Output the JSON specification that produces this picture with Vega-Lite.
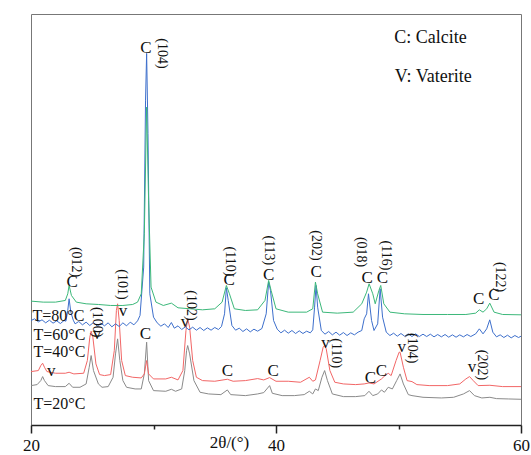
{
  "$schema": "https://vega.github.io/schema/vega-lite/v6.json",
  "width": 490,
  "height": 411,
  "autosize": {"type": "none"},
  "padding": {"left": 31, "top": 14, "right": 10, "bottom": 30},
  "config": {
    "view": {"stroke": "#777", "strokeWidth": 1},
    "font": "Liberation Serif",
    "axis": {"domainColor": "#222", "domainWidth": 1.5, "tickColor": "#222", "tickWidth": 1.5, "grid": false, "labelFont": "Liberation Serif", "titleFont": "Liberation Serif", "labelColor": "#111", "titleColor": "#111", "titleFontWeight": "normal"}
  },
  "datasets": {
    "xrd": [
      {"s":"20","x":20.0,"y":118},{"s":"20","x":20.5,"y":121},{"s":"20","x":20.8,"y":133},{"s":"20","x":20.95,"y":145},{"s":"20","x":21.1,"y":133},{"s":"20","x":21.4,"y":118},{"s":"20","x":22.0,"y":115},{"s":"20","x":22.8,"y":115},{"s":"20","x":23.11,"y":125},{"s":"20","x":23.4,"y":113},{"s":"20","x":24.0,"y":113},{"s":"20","x":24.5,"y":123},{"s":"20","x":24.75,"y":173},{"s":"20","x":24.91,"y":208},{"s":"20","x":25.1,"y":163},{"s":"20","x":25.5,"y":123},{"s":"20","x":25.8,"y":113},{"s":"20","x":26.3,"y":115},{"s":"20","x":26.7,"y":143},{"s":"20","x":26.9,"y":213},{"s":"20","x":27.07,"y":258},{"s":"20","x":27.25,"y":193},{"s":"20","x":27.5,"y":133},{"s":"20","x":27.8,"y":113},{"s":"20","x":28.5,"y":108},{"s":"20","x":29.0,"y":108},{"s":"20","x":29.25,"y":153},{"s":"20","x":29.44,"y":248},{"s":"20","x":29.6,"y":133},{"s":"20","x":30.0,"y":103},{"s":"20","x":31.0,"y":101},{"s":"20","x":31.46,"y":107},{"s":"20","x":31.8,"y":101},{"s":"20","x":32.3,"y":108},{"s":"20","x":32.55,"y":163},{"s":"20","x":32.7,"y":223},{"s":"20","x":32.79,"y":238},{"s":"20","x":32.95,"y":213},{"s":"20","x":33.3,"y":133},{"s":"20","x":33.8,"y":98},{"s":"20","x":34.5,"y":93},{"s":"20","x":35.5,"y":91},{"s":"20","x":36.03,"y":105},{"s":"20","x":36.3,"y":91},{"s":"20","x":37.5,"y":88},{"s":"20","x":38.5,"y":93},{"s":"20","x":39.0,"y":97},{"s":"20","x":39.48,"y":118},{"s":"20","x":39.7,"y":95},{"s":"20","x":40.5,"y":88},{"s":"20","x":41.5,"y":88},{"s":"20","x":42.3,"y":91},{"s":"20","x":42.72,"y":101},{"s":"20","x":43.0,"y":93},{"s":"20","x":43.22,"y":108},{"s":"20","x":43.45,"y":103},{"s":"20","x":43.75,"y":143},{"s":"20","x":43.97,"y":163},{"s":"20","x":44.2,"y":133},{"s":"20","x":44.6,"y":93},{"s":"20","x":45.5,"y":85},{"s":"20","x":46.5,"y":85},{"s":"20","x":47.25,"y":88},{"s":"20","x":47.59,"y":101},{"s":"20","x":47.9,"y":88},{"s":"20","x":48.3,"y":93},{"s":"20","x":48.61,"y":105},{"s":"20","x":48.85,"y":98},{"s":"20","x":49.16,"y":113},{"s":"20","x":49.5,"y":108},{"s":"20","x":49.85,"y":133},{"s":"20","x":50.13,"y":153},{"s":"20","x":50.4,"y":123},{"s":"20","x":50.8,"y":91},{"s":"20","x":51.1,"y":88},{"s":"20","x":52.0,"y":83},{"s":"20","x":53.5,"y":81},{"s":"20","x":54.5,"y":83},{"s":"20","x":55.3,"y":93},{"s":"20","x":55.8,"y":103},{"s":"20","x":56.2,"y":88},{"s":"20","x":56.8,"y":81},{"s":"20","x":57.46,"y":83},{"s":"20","x":58.0,"y":79},{"s":"20","x":59.0,"y":78},{"s":"20","x":60.0,"y":77},
      {"s":"40","x":20.0,"y":160},{"s":"40","x":20.6,"y":163},{"s":"40","x":20.8,"y":178},{"s":"40","x":20.95,"y":185},{"s":"40","x":21.1,"y":173},{"s":"40","x":21.3,"y":160},{"s":"40","x":22.0,"y":155},{"s":"40","x":22.8,"y":155},{"s":"40","x":23.11,"y":158},{"s":"40","x":23.5,"y":153},{"s":"40","x":24.3,"y":155},{"s":"40","x":24.6,"y":193},{"s":"40","x":24.8,"y":263},{"s":"40","x":24.91,"y":281},{"s":"40","x":25.05,"y":263},{"s":"40","x":25.3,"y":183},{"s":"40","x":25.6,"y":151},{"s":"40","x":26.0,"y":148},{"s":"40","x":26.5,"y":151},{"s":"40","x":26.8,"y":223},{"s":"40","x":26.97,"y":343},{"s":"40","x":27.07,"y":363},{"s":"40","x":27.2,"y":313},{"s":"40","x":27.4,"y":193},{"s":"40","x":27.7,"y":148},{"s":"40","x":28.3,"y":143},{"s":"40","x":29.0,"y":141},{"s":"40","x":29.25,"y":153},{"s":"40","x":29.44,"y":193},{"s":"40","x":29.6,"y":153},{"s":"40","x":30.0,"y":138},{"s":"40","x":31.0,"y":138},{"s":"40","x":31.46,"y":143},{"s":"40","x":32.0,"y":135},{"s":"40","x":32.4,"y":163},{"s":"40","x":32.65,"y":283},{"s":"40","x":32.79,"y":318},{"s":"40","x":32.95,"y":293},{"s":"40","x":33.2,"y":193},{"s":"40","x":33.5,"y":143},{"s":"40","x":34.0,"y":133},{"s":"40","x":35.0,"y":131},{"s":"40","x":36.03,"y":137},{"s":"40","x":36.5,"y":131},{"s":"40","x":37.5,"y":133},{"s":"40","x":38.5,"y":139},{"s":"40","x":39.0,"y":135},{"s":"40","x":39.48,"y":142},{"s":"40","x":40.0,"y":131},{"s":"40","x":41.0,"y":131},{"s":"40","x":42.0,"y":128},{"s":"40","x":42.72,"y":143},{"s":"40","x":43.0,"y":131},{"s":"40","x":43.22,"y":135},{"s":"40","x":43.6,"y":193},{"s":"40","x":43.85,"y":233},{"s":"40","x":43.97,"y":238},{"s":"40","x":44.1,"y":228},{"s":"40","x":44.4,"y":163},{"s":"40","x":44.8,"y":128},{"s":"40","x":45.5,"y":123},{"s":"40","x":46.5,"y":121},{"s":"40","x":47.2,"y":123},{"s":"40","x":47.59,"y":126},{"s":"40","x":48.0,"y":123},{"s":"40","x":48.61,"y":138},{"s":"40","x":48.9,"y":148},{"s":"40","x":49.16,"y":155},{"s":"40","x":49.4,"y":148},{"s":"40","x":49.8,"y":193},{"s":"40","x":50.05,"y":218},{"s":"40","x":50.13,"y":218},{"s":"40","x":50.4,"y":173},{"s":"40","x":50.7,"y":133},{"s":"40","x":51.1,"y":130},{"s":"40","x":51.5,"y":121},{"s":"40","x":52.5,"y":118},{"s":"40","x":54.0,"y":118},{"s":"40","x":55.0,"y":123},{"s":"40","x":55.5,"y":138},{"s":"40","x":55.8,"y":145},{"s":"40","x":56.1,"y":133},{"s":"40","x":56.5,"y":118},{"s":"40","x":57.46,"y":119},{"s":"40","x":58.5,"y":115},{"s":"40","x":60.0,"y":115},
      {"s":"60","x":20.0,"y":313},{"s":"60","x":20.3,"y":318},{"s":"60","x":20.6,"y":309},{"s":"60","x":20.9,"y":315},{"s":"60","x":21.2,"y":306},{"s":"60","x":21.5,"y":314},{"s":"60","x":21.8,"y":305},{"s":"60","x":22.1,"y":312},{"s":"60","x":22.4,"y":304},{"s":"60","x":22.7,"y":313},{"s":"60","x":22.85,"y":311},{"s":"60","x":23.0,"y":343},{"s":"60","x":23.11,"y":378},{"s":"60","x":23.25,"y":338},{"s":"60","x":23.45,"y":314},{"s":"60","x":23.6,"y":303},{"s":"60","x":23.9,"y":310},{"s":"60","x":24.2,"y":300},{"s":"60","x":24.5,"y":308},{"s":"60","x":24.8,"y":298},{"s":"60","x":25.1,"y":307},{"s":"60","x":25.4,"y":296},{"s":"60","x":25.7,"y":305},{"s":"60","x":26.0,"y":297},{"s":"60","x":26.3,"y":306},{"s":"60","x":26.6,"y":294},{"s":"60","x":26.9,"y":303},{"s":"60","x":27.2,"y":295},{"s":"60","x":27.5,"y":306},{"s":"60","x":27.8,"y":297},{"s":"60","x":28.1,"y":308},{"s":"60","x":28.4,"y":300},{"s":"60","x":28.7,"y":312},{"s":"60","x":28.9,"y":328},{"s":"60","x":29.2,"y":473},{"s":"60","x":29.35,"y":973},{"s":"60","x":29.44,"y":1113},{"s":"60","x":29.55,"y":873},{"s":"60","x":29.7,"y":393},{"s":"60","x":30.0,"y":323},{"s":"60","x":30.3,"y":306},{"s":"60","x":30.6,"y":296},{"s":"60","x":30.9,"y":303},{"s":"60","x":31.2,"y":292},{"s":"60","x":31.46,"y":307},{"s":"60","x":31.7,"y":290},{"s":"60","x":32.0,"y":297},{"s":"60","x":32.3,"y":286},{"s":"60","x":32.6,"y":294},{"s":"60","x":32.9,"y":285},{"s":"60","x":33.2,"y":293},{"s":"60","x":33.5,"y":284},{"s":"60","x":33.8,"y":292},{"s":"60","x":34.1,"y":283},{"s":"60","x":34.4,"y":291},{"s":"60","x":34.7,"y":284},{"s":"60","x":35.0,"y":292},{"s":"60","x":35.3,"y":286},{"s":"60","x":35.55,"y":295},{"s":"60","x":35.8,"y":333},{"s":"60","x":35.95,"y":411},{"s":"60","x":36.1,"y":373},{"s":"60","x":36.4,"y":298},{"s":"60","x":36.7,"y":284},{"s":"60","x":37.0,"y":290},{"s":"60","x":37.3,"y":280},{"s":"60","x":37.6,"y":288},{"s":"60","x":37.9,"y":279},{"s":"60","x":38.2,"y":287},{"s":"60","x":38.5,"y":281},{"s":"60","x":38.85,"y":289},{"s":"60","x":39.2,"y":333},{"s":"60","x":39.4,"y":428},{"s":"60","x":39.55,"y":403},{"s":"60","x":39.8,"y":313},{"s":"60","x":40.1,"y":287},{"s":"60","x":40.4,"y":276},{"s":"60","x":40.7,"y":284},{"s":"60","x":41.0,"y":275},{"s":"60","x":41.3,"y":283},{"s":"60","x":41.6,"y":274},{"s":"60","x":41.9,"y":282},{"s":"60","x":42.2,"y":274},{"s":"60","x":42.5,"y":281},{"s":"60","x":42.8,"y":276},{"s":"60","x":43.0,"y":285},{"s":"60","x":43.15,"y":353},{"s":"60","x":43.27,"y":418},{"s":"60","x":43.4,"y":353},{"s":"60","x":43.7,"y":283},{"s":"60","x":44.0,"y":272},{"s":"60","x":44.3,"y":280},{"s":"60","x":44.6,"y":270},{"s":"60","x":44.9,"y":278},{"s":"60","x":45.2,"y":269},{"s":"60","x":45.5,"y":277},{"s":"60","x":45.8,"y":268},{"s":"60","x":46.1,"y":276},{"s":"60","x":46.4,"y":270},{"s":"60","x":46.7,"y":278},{"s":"60","x":47.0,"y":283},{"s":"60","x":47.2,"y":318},{"s":"60","x":47.4,"y":333},{"s":"60","x":47.55,"y":393},{"s":"60","x":47.8,"y":313},{"s":"60","x":48.0,"y":283},{"s":"60","x":48.3,"y":303},{"s":"60","x":48.5,"y":408},{"s":"60","x":48.7,"y":323},{"s":"60","x":49.0,"y":278},{"s":"60","x":49.3,"y":268},{"s":"60","x":49.6,"y":275},{"s":"60","x":49.9,"y":266},{"s":"60","x":50.2,"y":274},{"s":"60","x":50.5,"y":266},{"s":"60","x":50.8,"y":273},{"s":"60","x":51.1,"y":265},{"s":"60","x":51.4,"y":273},{"s":"60","x":51.7,"y":265},{"s":"60","x":52.0,"y":272},{"s":"60","x":52.3,"y":265},{"s":"60","x":52.6,"y":272},{"s":"60","x":52.9,"y":264},{"s":"60","x":53.2,"y":271},{"s":"60","x":53.5,"y":264},{"s":"60","x":53.8,"y":271},{"s":"60","x":54.1,"y":263},{"s":"60","x":54.4,"y":270},{"s":"60","x":54.7,"y":263},{"s":"60","x":55.0,"y":270},{"s":"60","x":55.3,"y":264},{"s":"60","x":55.6,"y":271},{"s":"60","x":55.9,"y":265},{"s":"60","x":56.3,"y":273},{"s":"60","x":56.6,"y":288},{"s":"60","x":56.9,"y":273},{"s":"60","x":57.2,"y":288},{"s":"60","x":57.45,"y":315},{"s":"60","x":57.7,"y":278},{"s":"60","x":58.0,"y":264},{"s":"60","x":58.3,"y":270},{"s":"60","x":58.6,"y":262},{"s":"60","x":58.9,"y":269},{"s":"60","x":59.2,"y":261},{"s":"60","x":59.5,"y":268},{"s":"60","x":59.8,"y":262},{"s":"60","x":60.0,"y":266},
      {"s":"80","x":20.0,"y":371},{"s":"80","x":21.0,"y":368},{"s":"80","x":22.0,"y":368},{"s":"80","x":22.8,"y":373},{"s":"80","x":23.0,"y":393},{"s":"80","x":23.11,"y":418},{"s":"80","x":23.3,"y":388},{"s":"80","x":23.7,"y":368},{"s":"80","x":24.5,"y":363},{"s":"80","x":25.5,"y":361},{"s":"80","x":26.5,"y":358},{"s":"80","x":27.5,"y":358},{"s":"80","x":28.3,"y":361},{"s":"80","x":28.7,"y":368},{"s":"80","x":29.0,"y":393},{"s":"80","x":29.25,"y":573},{"s":"80","x":29.44,"y":952},{"s":"80","x":29.6,"y":673},{"s":"80","x":29.8,"y":413},{"s":"80","x":30.2,"y":368},{"s":"80","x":30.8,"y":358},{"s":"80","x":31.46,"y":365},{"s":"80","x":32.0,"y":351},{"s":"80","x":33.0,"y":348},{"s":"80","x":34.0,"y":345},{"s":"80","x":35.0,"y":348},{"s":"80","x":35.6,"y":368},{"s":"80","x":35.95,"y":418},{"s":"80","x":36.2,"y":393},{"s":"80","x":36.6,"y":348},{"s":"80","x":37.5,"y":343},{"s":"80","x":38.5,"y":345},{"s":"80","x":39.1,"y":373},{"s":"80","x":39.4,"y":433},{"s":"80","x":39.6,"y":403},{"s":"80","x":40.0,"y":348},{"s":"80","x":41.0,"y":338},{"s":"80","x":42.5,"y":338},{"s":"80","x":43.0,"y":348},{"s":"80","x":43.22,"y":428},{"s":"80","x":43.4,"y":393},{"s":"80","x":43.8,"y":338},{"s":"80","x":45.0,"y":335},{"s":"80","x":46.3,"y":338},{"s":"80","x":47.0,"y":363},{"s":"80","x":47.4,"y":398},{"s":"80","x":47.6,"y":423},{"s":"80","x":47.9,"y":393},{"s":"80","x":48.1,"y":363},{"s":"80","x":48.4,"y":403},{"s":"80","x":48.55,"y":418},{"s":"80","x":48.8,"y":363},{"s":"80","x":49.3,"y":338},{"s":"80","x":50.5,"y":333},{"s":"80","x":52.0,"y":331},{"s":"80","x":54.0,"y":331},{"s":"80","x":55.5,"y":331},{"s":"80","x":56.3,"y":335},{"s":"80","x":56.6,"y":345},{"s":"80","x":56.9,"y":338},{"s":"80","x":57.2,"y":348},{"s":"80","x":57.45,"y":365},{"s":"80","x":57.8,"y":338},{"s":"80","x":58.5,"y":331},{"s":"80","x":60.0,"y":330}
    ],
    "letters": [
      {"t":"C","x":29.39,"y":1128},{"t":"C","x":23.36,"y":428},{"t":"v","x":27.51,"y":341},{"t":"v","x":25.38,"y":273},{"t":"C","x":29.34,"y":273},{"t":"v","x":32.57,"y":308},{"t":"v","x":21.65,"y":163},{"t":"C","x":36.03,"y":161},{"t":"C","x":39.76,"y":163},{"t":"C","x":36.17,"y":433},{"t":"C","x":39.4,"y":448},{"t":"C","x":43.27,"y":458},{"t":"C","x":47.45,"y":440},{"t":"C","x":48.69,"y":440},{"t":"C","x":56.55,"y":376},{"t":"C","x":57.79,"y":390},{"t":"v","x":44.05,"y":245},{"t":"C","x":47.7,"y":140},{"t":"C","x":48.61,"y":161},{"t":"v","x":50.27,"y":233},{"t":"v","x":55.99,"y":173}
    ],
    "hkl": [
      {"t":"(104)","x":30.69,"y":1113},{"t":"(012)","x":23.64,"y":488},{"t":"(101)","x":27.45,"y":421},{"t":"(100)","x":25.38,"y":308},{"t":"(102)","x":33.07,"y":358},{"t":"(110)","x":36.25,"y":490},{"t":"(113)","x":39.4,"y":523},{"t":"(202)","x":43.27,"y":538},{"t":"(018)","x":46.9,"y":518},{"t":"(116)","x":49.02,"y":508},{"t":"(122)","x":58.29,"y":443},{"t":"(110)","x":44.88,"y":215},{"t":"(104)","x":51.1,"y":230},{"t":"(202)","x":56.82,"y":180}
    ],
    "temps": [
      {"t":"T=80°C","x":20.12,"y":325},{"t":"T=60°C","x":20.2,"y":270},{"t":"T=40°C","x":20.2,"y":220},{"t":"T=20°C","x":20.2,"y":63}
    ],
    "legend": [
      {"t":"C: Calcite","x":49.65,"y":1158},{"t":"V: Vaterite","x":49.7,"y":1043}
    ]
  },
  "resolve": {"scale": {"x": "independent"}, "axis": {"x": "independent"}},
  "layer": [
    {
      "data": {"name": "xrd"},
      "mark": {"type": "line", "strokeWidth": 1, "interpolate": "linear"},
      "encoding": {
        "x": {"field": "x", "type": "quantitative", "scale": {"domain": [20, 60], "nice": false, "zero": false},
              "axis": {"orient": "bottom", "values": [20, 40, 60], "tickSize": 8, "labelFontSize": 17, "labelPadding": 4, "title": "2θ/(°)", "titleFontSize": 17, "titleX": 198, "titleY": 17, "titleBaseline": "middle", "titleAnchor": null, "titleAlign": "center", "labelFlush": false}},
        "y": {"field": "y", "type": "quantitative", "scale": {"domain": [0, 1231], "nice": false, "zero": false},
              "axis": {"title": "Intensity", "ticks": false, "labels": false, "titleFontSize": 17, "titlePadding": 5}},
        "color": {"field": "s", "type": "nominal", "scale": {"domain": ["20", "40", "60", "80"], "range": ["#8a8a8a", "#f26666", "#3d6fcc", "#3cb87a"]}, "legend": null},
        "order": {"field": "s"}
      }
    },
    {
      "data": {"name": "letters"},
      "mark": {"type": "text", "font": "Liberation Serif", "fontSize": 17, "align": "center", "baseline": "middle", "color": "#111"},
      "encoding": {
        "x": {"field": "x", "type": "quantitative", "scale": {"domain": [20, 60], "nice": false, "zero": false},
              "axis": {"orient": "bottom", "values": [30, 50], "tickSize": 4, "labels": false, "domain": false, "title": null}},
        "y": {"field": "y", "type": "quantitative", "axis": {"orient": "right", "ticks": false, "labels": false, "title": null}},
        "text": {"field": "t"}
      }
    },
    {
      "data": {"name": "hkl"},
      "mark": {"type": "text", "font": "Liberation Serif", "fontSize": 14, "angle": 90, "align": "center", "baseline": "middle", "color": "#111"},
      "encoding": {
        "x": {"field": "x", "type": "quantitative", "scale": {"domain": [20, 60], "nice": false, "zero": false}, "axis": null},
        "y": {"field": "y", "type": "quantitative", "axis": null},
        "text": {"field": "t"}
      }
    },
    {
      "data": {"name": "temps"},
      "mark": {"type": "text", "font": "Liberation Serif", "fontSize": 16, "align": "left", "baseline": "middle", "color": "#111"},
      "encoding": {
        "x": {"field": "x", "type": "quantitative", "scale": {"domain": [20, 60], "nice": false, "zero": false}, "axis": null},
        "y": {"field": "y", "type": "quantitative", "axis": null},
        "text": {"field": "t"}
      }
    },
    {
      "data": {"name": "legend"},
      "mark": {"type": "text", "font": "Liberation Serif", "fontSize": 18, "align": "left", "baseline": "middle", "color": "#111"},
      "encoding": {
        "x": {"field": "x", "type": "quantitative", "scale": {"domain": [20, 60], "nice": false, "zero": false}, "axis": null},
        "y": {"field": "y", "type": "quantitative", "axis": null},
        "text": {"field": "t"}
      }
    }
  ]
}
